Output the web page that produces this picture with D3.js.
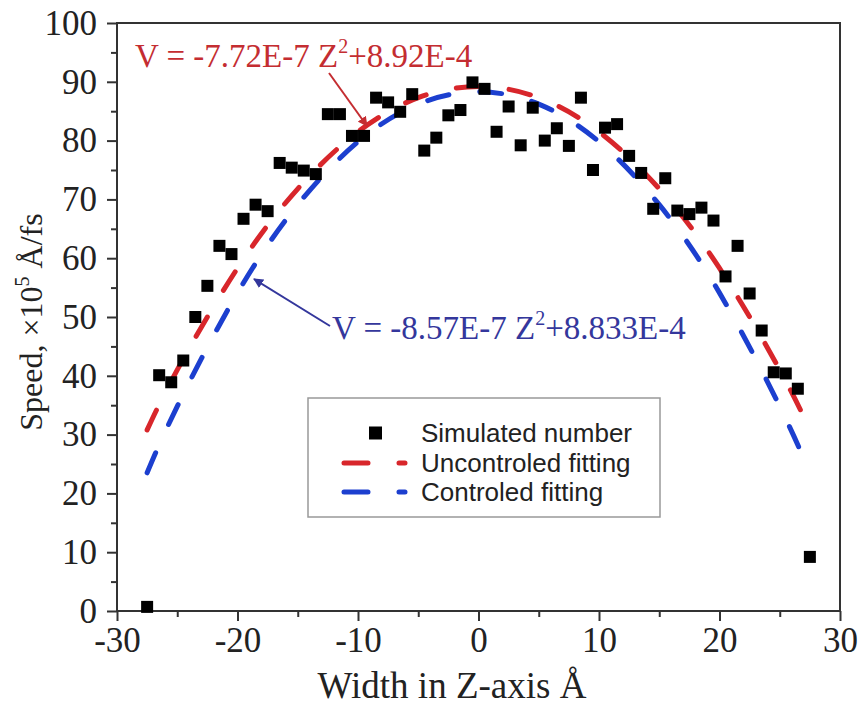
<!DOCTYPE html>
<html>
<head>
<meta charset="utf-8">
<script src="https://cdn.jsdelivr.net/npm/d3@7"></script>
<style>
  html, body { margin: 0; padding: 0; background: #fff; }
  svg { display: block; }
</style>
</head>
<body>
<svg id="chart" width="861" height="710"></svg>
<script>
// ---- data ----
const simZ = [-27.5,-26.5,-25.5,-24.5,-23.5,-22.5,-21.5,-20.5,-19.5,-18.5,-17.5,-16.5,-15.5,-14.5,-13.5,-12.5,-11.5,-10.5,-9.5,-8.5,-7.5,-6.5,-5.5,-4.5,-3.5,-2.5,-1.5,-0.5,
              0.5,1.5,2.5,3.5,4.5,5.5,6.5,7.5,8.5,9.5,10.5,11.5,12.5,13.5,14.5,15.5,16.5,17.5,18.5,19.5,20.5,21.5,22.5,23.5,24.5,25.5,26.5,27.5];
const simSpeed = [0.7,40.1,38.9,42.6,50.0,55.3,62.1,60.7,66.7,69.1,68.0,76.2,75.4,74.9,74.3,84.5,84.5,80.8,80.8,87.3,86.5,84.9,87.9,78.3,80.5,84.3,85.2,89.9,
                  88.8,81.5,85.8,79.2,85.6,80.0,82.1,79.1,87.3,75.0,82.2,82.8,77.4,74.5,68.4,73.6,68.1,67.5,68.6,66.4,56.9,62.1,54.0,47.7,40.6,40.4,37.8,9.2];
const fitZ = [-27.5,-25,-20,-15,-10,-5,0,5,10,15,20,25,27.5];
const uncontrolledFit = [30.8,41.0,58.3,71.8,81.5,87.3,89.2,87.3,81.5,71.8,58.3,41.0,30.8];
const controlledFit   = [23.5,34.8,54.1,69.1,79.8,86.2,88.3,86.2,79.8,69.1,54.1,34.8,23.5];
const xMajorTicks = [-30,-20,-10,0,10,20,30];
const xMinorTicks = [-25,-15,-5,5,15,25];
const yMajorTicks = [0,10,20,30,40,50,60,70,80,90,100];
const yMinorTicks = [5,15,25,35,45,55,65,75,85,95];
const legendLabels = ["Simulated number", "Uncontroled fitting", "Controled fitting"];
const xTitle = "Width in Z-axis Å";

// ---- layout ----
const svg = d3.select("#chart");
const L = 117, R = 840, T = 23, B = 611;
const x = d3.scaleLinear().domain([-30, 30]).range([L, R]);
const y = d3.scaleLinear().domain([0, 100]).range([B, T]);
const serif = "'Liberation Serif','Times New Roman',serif";
const sans = "'Liberation Sans',Arial,sans-serif";
const axisColor = "#333";
const red = "#d8262b", blue = "#1c3fcf";
const redText = "#c42d31", blueText = "#34379c";

// frame
svg.append("rect").attr("x", L).attr("y", T).attr("width", R - L).attr("height", B - T)
  .attr("fill", "none").attr("stroke", axisColor).attr("stroke-width", 2);

// axes
function styleAxis(g) {
  g.select(".domain").remove();
  g.selectAll("line").attr("stroke", axisColor).attr("stroke-width", 2);
  g.selectAll("text").attr("font-family", serif).attr("font-size", 35).attr("fill", "#222");
}
const fmt = d => String(d);
svg.append("g").attr("transform", `translate(0,${B})`)
  .call(d3.axisBottom(x).tickValues(xMajorTicks).tickSize(10).tickSizeOuter(0).tickPadding(6).tickFormat(fmt))
  .call(styleAxis);
svg.append("g").attr("transform", `translate(0,${B})`)
  .call(d3.axisBottom(x).tickValues(xMinorTicks).tickSize(6).tickFormat(""))
  .call(styleAxis);
svg.append("g").attr("transform", `translate(${L},0)`)
  .call(d3.axisLeft(y).tickValues(yMajorTicks).tickSize(10).tickSizeOuter(0).tickPadding(10).tickFormat(fmt))
  .call(styleAxis);
svg.append("g").attr("transform", `translate(${L},0)`)
  .call(d3.axisLeft(y).tickValues(yMinorTicks).tickSize(6).tickFormat(""))
  .call(styleAxis);

// axis titles
svg.append("text").attr("x", 452).attr("y", 698).attr("text-anchor", "middle")
  .attr("font-family", serif).attr("font-size", 37).attr("fill", "#222").text(xTitle);
const yt = svg.append("text").attr("transform", `translate(42,322) rotate(-90)`)
  .attr("text-anchor", "middle").attr("font-family", serif).attr("font-size", 32).attr("fill", "#222");
yt.append("tspan").text("Speed, ×10");
yt.append("tspan").attr("font-size", 20).attr("dy", -13).text("5");
yt.append("tspan").attr("dy", 13).text(" Å/fs");

// fitted curves
const line = d3.line().x((d, i) => x(fitZ[i])).y(d => y(d)).curve(d3.curveNatural);
svg.append("path").datum(controlledFit).attr("d", line).attr("fill", "none")
  .attr("stroke", blue).attr("stroke-width", 5).attr("stroke-linecap", "round").attr("stroke-dasharray", "22,31");
svg.append("path").datum(uncontrolledFit).attr("d", line).attr("fill", "none")
  .attr("stroke", red).attr("stroke-width", 5).attr("stroke-linecap", "round").attr("stroke-dasharray", "22,31");

// simulated points
const sq = 12;
svg.append("g").selectAll("rect").data(simSpeed).join("rect")
  .attr("x", (d, i) => x(simZ[i]) - sq / 2).attr("y", d => y(d) - sq / 2)
  .attr("width", sq).attr("height", sq).attr("fill", "#000");

// annotations
const defs = svg.append("defs");
function marker(id, color) {
  defs.append("marker").attr("id", id).attr("viewBox", "0 0 10 10").attr("refX", 9).attr("refY", 5)
    .attr("markerWidth", 5).attr("markerHeight", 5).attr("orient", "auto-start-reverse")
    .append("path").attr("d", "M0,0 L10,5 L0,10 z").attr("fill", color);
}
marker("arrRed", redText);
marker("arrBlue", blueText);

const eq1 = svg.append("text").attr("x", 135).attr("y", 67).attr("font-family", serif)
  .attr("font-size", 33).attr("fill", redText);
eq1.append("tspan").text("V = -7.72E-7 Z");
eq1.append("tspan").attr("font-size", 20).attr("dy", -14).text("2");
eq1.append("tspan").attr("dy", 14).text("+8.92E-4");
svg.append("line").attr("x1", 329).attr("y1", 73).attr("x2", 367).attr("y2", 126)
  .attr("stroke", redText).attr("stroke-width", 2).attr("marker-end", "url(#arrRed)");

const eq2 = svg.append("text").attr("x", 332).attr("y", 339).attr("font-family", serif)
  .attr("font-size", 33).attr("fill", blueText);
eq2.append("tspan").text("V = -8.57E-7 Z");
eq2.append("tspan").attr("font-size", 20).attr("dy", -14).text("2");
eq2.append("tspan").attr("dy", 14).text("+8.833E-4");
svg.append("line").attr("x1", 330).attr("y1", 326).attr("x2", 254).attr("y2", 279)
  .attr("stroke", blueText).attr("stroke-width", 2).attr("marker-end", "url(#arrBlue)");

// legend
const lg = svg.append("g");
lg.append("rect").attr("x", 308).attr("y", 398).attr("width", 352).attr("height", 119)
  .attr("fill", "#fff").attr("stroke", "#999").attr("stroke-width", 1.5);
const rowY = [433, 463, 492];
lg.append("rect").attr("x", 369).attr("y", rowY[0] - 6.5).attr("width", 13).attr("height", 13).attr("fill", "#000");
[[red, rowY[1]], [blue, rowY[2]]].forEach(([c, yy]) => {
  lg.append("line").attr("x1", 344).attr("x2", 405).attr("y1", yy).attr("y2", yy)
    .attr("stroke", c).attr("stroke-width", 5).attr("stroke-dasharray", "24,31").attr("stroke-linecap", "round");
});
legendLabels.forEach((t, i) => {
  lg.append("text").attr("x", 421).attr("y", rowY[i] + 9).attr("font-family", sans)
    .attr("font-size", 26).attr("fill", "#222").text(t);
});
</script>
</body>
</html>
